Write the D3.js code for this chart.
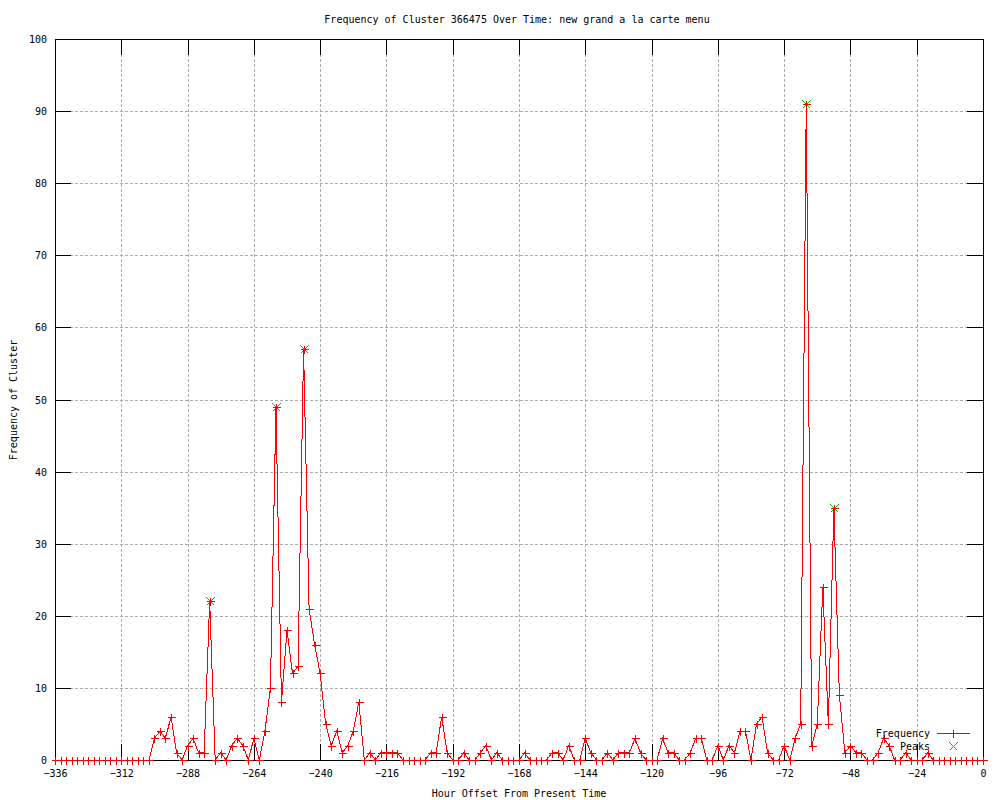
<!DOCTYPE html>
<html><head><meta charset="utf-8">
<script src="https://cdn.jsdelivr.net/npm/d3@7"></script>
<style>body{margin:0;background:#fff}svg{display:block}</style>
</head><body><svg id="c" width="1000" height="800"></svg>
<script>
// ---- data ----
const hours = [
 -336,-334,-332,-330,-328,-326,-324,-322,-320,-318,-316,-314,-312,-310,-308,-306,-304,-302,
 -300,-298,-296,-294,-292,-290,-288,-286,-284,-282,
 -280,-278,-276,-274,-272,-270,-268,-266,-264,-262,
 -260,-258,-256,-254,-252,-250,-248,-246,-244,-242,
 -240,-238,-236,-234,-232,-230,-228,-226,-224,-222,
 -220,-218,-216,-214,-212,-210,-208,-206,-204,-202,
 -200,-198,-196,-194,-192,-190,-188,-186,-184,-182,
 -180,-178,-176,-174,-172,-170,-168,-166,-164,-162,
 -160,-158,-156,-154,-152,-150,-148,-146,-144,-142,
 -140,-138,-136,-134,-132,-130,-128,-126,-124,-122,
 -120,-118,-116,-114,-112,-110,-108,-106,-104,-102,
 -100,-98,-96,-94,-92,-90,-88,-86,-84,-82,
 -80,-78,-76,-74,-72,-70,-68,-66,-64,-62,
 -60,-58,-56,-54,-52,-50,-48,-46,-44,-42,
 -40,-38,-36,-34,-32,-30,-28,-26,-24,-22,
 -20,-18,-16,-14,-12,-10,-8,-6,-4,-2,0
];
const frequency = [
 0,0,0,0,0,0,0,0,0,0,0,0,0,0,0,0,0,0,
 3,4,3,6,1,0,2,3,1,1,
 22,0,1,0,2,3,2,0,3,0,
 4,10,49,8,18,12,13,57,21,16,
 12,5,2,4,1,2,4,8,0,1,
 0,1,1,1,1,0,0,0,0,0,
 1,1,6,1,0,0,1,0,0,1,
 2,0,1,0,0,0,0,1,0,0,
 0,0,1,1,0,2,0,0,3,1,
 0,0,1,0,1,1,1,3,1,0,
 0,0,3,1,1,0,0,1,3,3,
 0,0,2,0,2,1,4,4,0,5,
 6,1,0,0,2,0,3,5,91,2,
 5,24,5,35,9,1,2,1,1,0,
 0,1,3,2,0,0,1,0,0,0,
 1,0,0,0,0,0,0,0,0,0,0
];
const peakHours = [-280,-256,-246,-64,-54];
const peakValues = [22,49,57,91,35];
const xTicks = [-336,-312,-288,-264,-240,-216,-192,-168,-144,-120,-96,-72,-48,-24,0];
const yTicks = [0,10,20,30,40,50,60,70,80,90,100];
const titleText = "Frequency of Cluster 366475 Over Time: new grand a la carte menu";
const xLabel = "Hour Offset From Present Time";
const yLabel = "Frequency of Cluster";
const seriesNames = ["Frequency","Peaks"];

// ---- layout ----
const L=55, R=983, T=39, B=760, TICK=16;
const FONT = "'DejaVu Sans Mono', monospace";
const svg = d3.select("#c");
const x = d3.scaleLinear().domain([-336,0]).range([L,R]);
const y = d3.scaleLinear().domain([0,100]).range([B,T]);

const g = svg.append("g").attr("shape-rendering","crispEdges");

// grid
g.selectAll(".gx").data(xTicks.slice(1,-1)).enter().append("line")
 .attr("x1",d=>Math.round(x(d))+0.5).attr("x2",d=>Math.round(x(d))+0.5)
 .attr("y1",T).attr("y2",B).attr("stroke","#ababab").attr("stroke-dasharray","3,2");
g.selectAll(".gy").data(yTicks.slice(1,-1)).enter().append("line")
 .attr("y1",d=>Math.round(y(d))+0.5).attr("y2",d=>Math.round(y(d))+0.5)
 .attr("x1",L).attr("x2",R).attr("stroke","#ababab").attr("stroke-dasharray","3,2");

// axes (gnuplot style: inward ticks, mirrored)
const axB = d3.axisBottom(x).tickValues(xTicks).tickSizeInner(-TICK).tickSizeOuter(0).tickFormat(d3.format("d"));
const axT = d3.axisTop(x).tickValues(xTicks).tickSizeInner(-TICK).tickSizeOuter(0).tickFormat("");
const axL = d3.axisLeft(y).tickValues(yTicks).tickSizeInner(-TICK).tickSizeOuter(0).tickFormat(d3.format("d"));
const axRt = d3.axisRight(y).tickValues(yTicks).tickSizeInner(-TICK).tickSizeOuter(0).tickFormat("");
function style(sel){
  sel.select(".domain").remove();
  sel.selectAll(".tick line").attr("stroke","#000");
  sel.selectAll(".tick text").attr("font-family",FONT).attr("font-size","10px").attr("fill","#000");
}
g.append("g").attr("transform",`translate(0,${B})`).call(axB).call(style)
 .selectAll(".tick text").attr("dy",0).attr("y",17);
g.append("g").attr("transform",`translate(0,${T})`).call(axT).call(style);
g.append("g").attr("transform",`translate(${L},0)`).call(axL).call(style)
 .selectAll(".tick text").attr("x",-8).attr("dy","0.35em");
g.append("g").attr("transform",`translate(${R},0)`).call(axRt).call(style);

// border
g.append("rect").attr("x",L+0.5).attr("y",T+0.5).attr("width",R-L).attr("height",B-T)
 .attr("fill","none").attr("stroke","#000");

// peaks (green x)
const xMark = "M-4,-4L4,4M-4,4L4,-4";
const plus = "M-4,0H4M0,-4V4";
svg.append("g").attr("shape-rendering","crispEdges").selectAll("path").data(peakHours).enter().append("path")
 .attr("d",xMark).attr("stroke","#00c000").attr("fill","none")
 .attr("transform",(d,i)=>`translate(${Math.round(x(d))+0.5},${Math.round(y(peakValues[i]))+0.5})`);

// frequency line
const line = d3.line().x((d,i)=>x(hours[i])).y(d=>y(d));
svg.append("path").datum(frequency).attr("d",line).attr("fill","none")
 .attr("stroke","#ff0000").attr("stroke-width",1).attr("shape-rendering","crispEdges");
svg.append("g").attr("shape-rendering","crispEdges").selectAll("path").data(frequency).enter().append("path")
 .attr("d",plus).attr("stroke","#ff0000").attr("fill","none")
 .attr("transform",(d,i)=>`translate(${Math.round(x(hours[i]))+0.5},${Math.round(y(d))+0.5})`);

// texts
function txt(t,xx,yy,anchor){return svg.append("text").text(t).attr("x",xx).attr("y",yy)
 .attr("font-family",FONT).attr("font-size","10px").attr("fill","#000").attr("text-anchor",anchor||"middle");}
txt(titleText,517,23);
txt(xLabel,519,797);
txt(yLabel,0,0).attr("transform","translate(17,400) rotate(-90)");

// legend
txt(seriesNames[0],930,737,"end");
txt(seriesNames[1],930,750,"end");
svg.append("path").attr("d","M937,733.5H970").attr("stroke","#ff0000").attr("fill","none").attr("shape-rendering","crispEdges");
svg.append("path").attr("d",plus).attr("stroke","#ff0000").attr("fill","none").attr("shape-rendering","crispEdges").attr("transform","translate(953.5,733.5)");
svg.append("path").attr("d",xMark).attr("stroke","#00c000").attr("fill","none").attr("shape-rendering","crispEdges").attr("transform","translate(953.5,746.5)");
</script></body></html>
